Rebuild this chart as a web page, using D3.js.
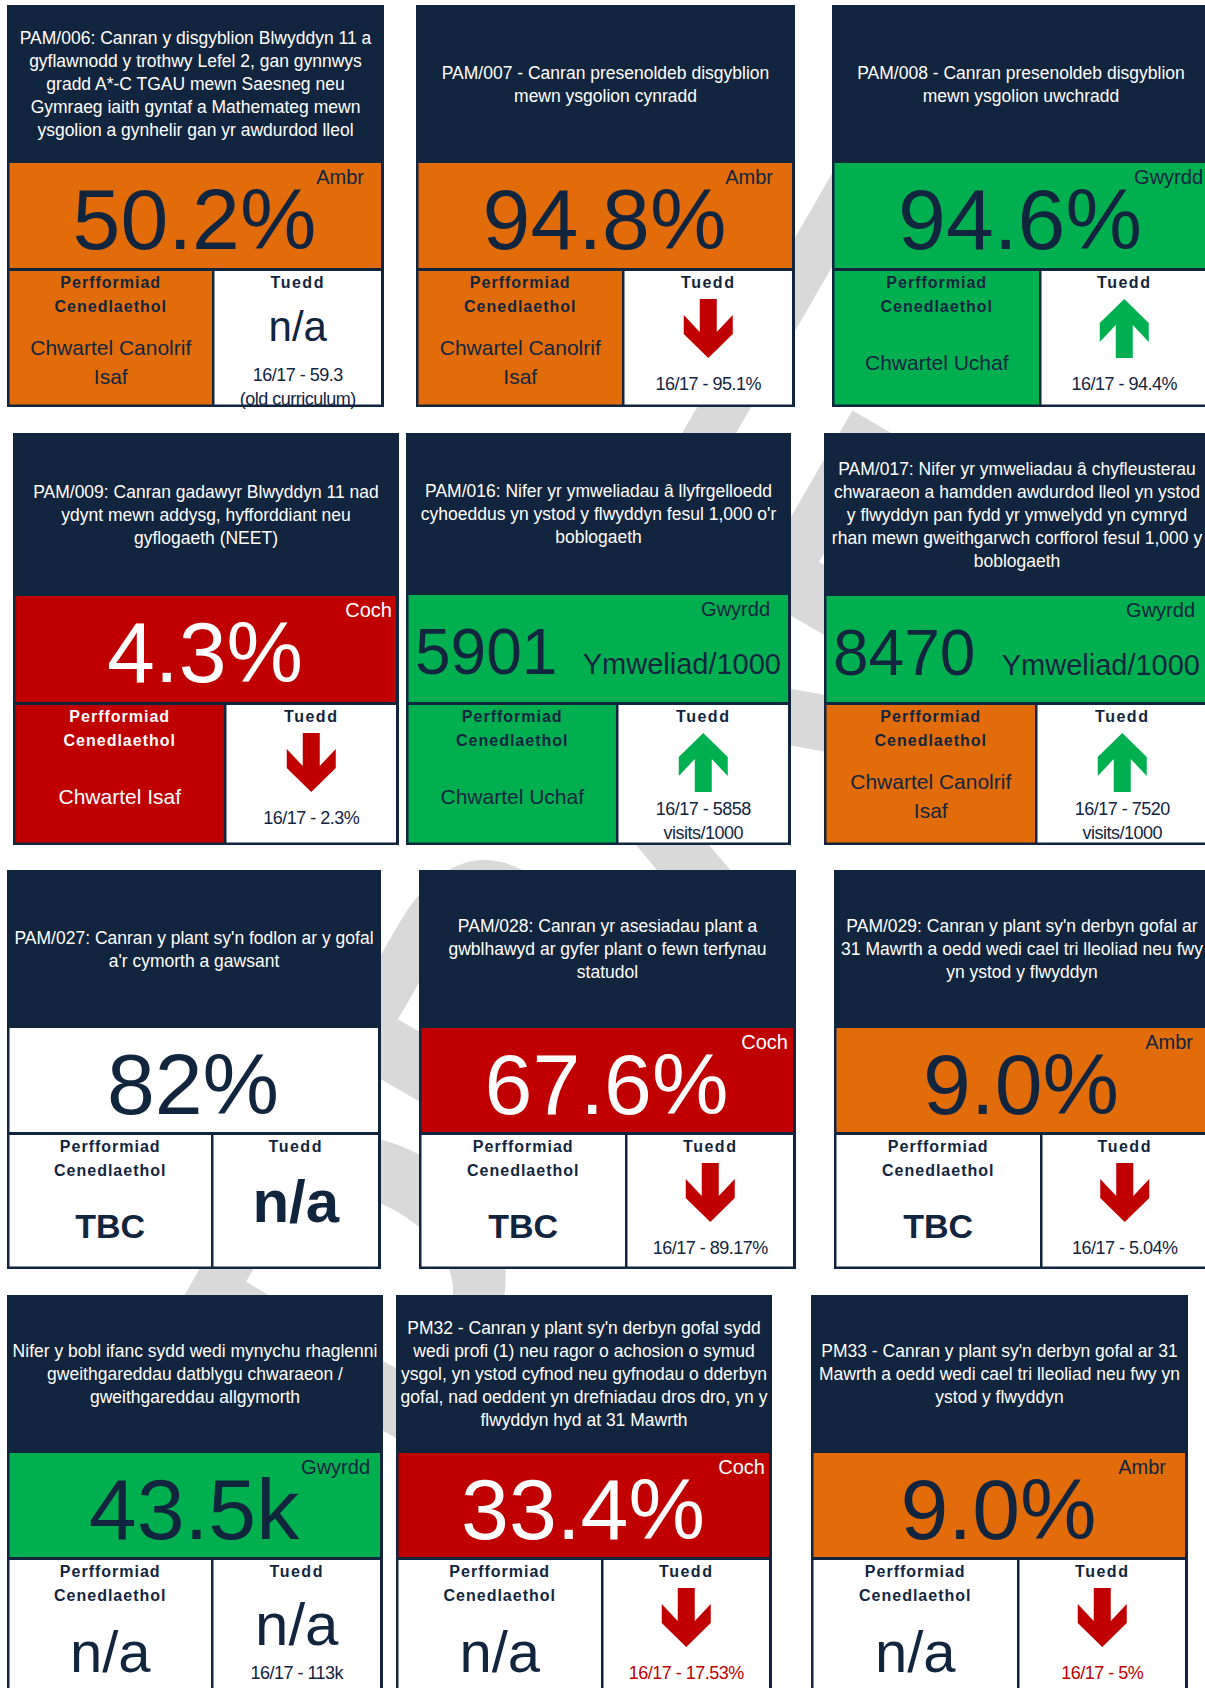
<!DOCTYPE html>
<html>
<head>
<meta charset="utf-8">
<script src="https://cdn.jsdelivr.net/npm/d3@7"></script>
<style>
  body { margin: 0; background: #fff; }
  svg { display: block; font-family: "Liberation Sans", Arial, sans-serif; }
</style>
</head>
<body>
<div id="chart"></div>
<script>
const width = 1205;
const height = 1688;

const titles = [
    ["PAM/006: Canran y disgyblion Blwyddyn 11 a", "gyflawnodd y trothwy Lefel 2, gan gynnwys", "gradd A*-C TGAU mewn Saesneg neu", "Gymraeg iaith gyntaf a Mathemateg mewn", "ysgolion a gynhelir gan yr awdurdod lleol"],
    ["PAM/007 - Canran presenoldeb disgyblion", "mewn ysgolion cynradd"],
    ["PAM/008 - Canran presenoldeb disgyblion", "mewn ysgolion uwchradd"],
    ["PAM/009: Canran gadawyr Blwyddyn 11 nad", "ydynt mewn addysg, hyfforddiant neu", "gyflogaeth (NEET)"],
    ["PAM/016: Nifer yr ymweliadau â llyfrgelloedd", "cyhoeddus yn ystod y flwyddyn fesul 1,000 o'r", "boblogaeth"],
    ["PAM/017: Nifer yr ymweliadau â chyfleusterau", "chwaraeon a hamdden awdurdod lleol yn ystod", "y flwyddyn pan fydd yr ymwelydd yn cymryd", "rhan mewn gweithgarwch corfforol fesul 1,000 y", "boblogaeth"],
    ["PAM/027: Canran y plant sy'n fodlon ar y gofal", "a'r cymorth a gawsant"],
    ["PAM/028: Canran yr asesiadau plant a", "gwblhawyd ar gyfer plant o fewn terfynau", "statudol"],
    ["PAM/029: Canran y plant sy'n derbyn gofal ar", "31 Mawrth a oedd wedi cael tri lleoliad neu fwy", "yn ystod y flwyddyn"],
    ["Nifer y bobl ifanc sydd wedi mynychu rhaglenni", "gweithgareddau datblygu chwaraeon /", "gweithgareddau allgymorth"],
    ["PM32 - Canran y plant sy'n derbyn gofal sydd", "wedi profi (1) neu ragor o achosion o symud", "ysgol, yn ystod cyfnod neu gyfnodau o dderbyn", "gofal, nad oeddent yn drefniadau dros dro, yn y", "flwyddyn hyd at 31 Mawrth"],
    ["PM33 - Canran y plant sy'n derbyn gofal ar 31", "Mawrth a oedd wedi cael tri lleoliad neu fwy yn", "ystod y flwyddyn"]
];
const values = ["50.2%", "94.8%", "94.6%", "4.3%", "5901", "8470", "82%", "67.6%", "9.0%", "43.5k", "33.4%", "9.0%"];
const units = ["", "", "", "", "Ymweliad/1000", "Ymweliad/1000", "", "", "", "", "", ""];
const ragStatus = ["Ambr", "Ambr", "Gwyrdd", "Coch", "Gwyrdd", "Gwyrdd", "", "Coch", "Ambr", "Gwyrdd", "Coch", "Ambr"];
const nationalStatus = ["Ambr", "Ambr", "Gwyrdd", "Coch", "Gwyrdd", "Ambr", "", "", "", "", "", ""];
const nationalText = [
    ["Chwartel Canolrif", "Isaf"], ["Chwartel Canolrif", "Isaf"], ["Chwartel Uchaf"], ["Chwartel Isaf"],
    ["Chwartel Uchaf"], ["Chwartel Canolrif", "Isaf"], ["TBC"], ["TBC"], ["TBC"], ["n/a"], ["n/a"], ["n/a"]
];
const trend = ["n/a", "down", "up", "down", "up", "up", "n/a", "down", "down", "n/a", "down", "down"];
const previous = [
    ["16/17 - 59.3", "(old curriculum)"], ["16/17 - 95.1%"], ["16/17 - 94.4%"], ["16/17 - 2.3%"],
    ["16/17 - 5858", "visits/1000"], ["16/17 - 7520", "visits/1000"], [], ["16/17 - 89.17%"],
    ["16/17 - 5.04%"], ["16/17 - 113k"], ["16/17 - 17.53%"], ["16/17 - 5%"]
];
const previousFlagged = [false, false, false, false, false, false, false, false, false, false, true, true];

// ---- card frames: x0, x1, top, header bottom, value bottom, bottom, divider, label inset ----
const boxes = [
    [7, 384, 5, 163, 269, 407, 213, 20],
    [416, 795, 5, 163, 269, 407, 623, 22],
    [832, 1210, 5, 163, 269, 407, 1040, 7],
    [13, 399, 433, 596, 703, 845, 225, 7],
    [406, 791, 433, 595, 703, 845, 617, 21],
    [824, 1210, 433, 596, 703, 845, 1036, 15],
    [7, 381, 870, 1028, 1133, 1269, 212, 0],
    [419, 796, 870, 1028, 1133, 1269, 626, 8],
    [834, 1210, 870, 1028, 1133, 1269, 1041, 17],
    [7, 383, 1295, 1453, 1558, 1700, 212, 13],
    [396, 772, 1295, 1453, 1558, 1700, 602, 7],
    [811, 1188, 1295, 1453, 1558, 1700, 1018, 22]
];

const navy = "#12253f";
const fillColour = d3.scaleOrdinal()
    .domain(["Gwyrdd", "Ambr", "Coch", ""])
    .range(["#00b050", "#e36c0a", "#c00000", "#ffffff"]);
const inkColour = d3.scaleOrdinal()
    .domain(["Gwyrdd", "Ambr", "Coch", ""])
    .range([navy, navy, "#ffffff", navy]);

const svg = d3.select("#chart")
    .append("svg")
    .attr("width", width)
    .attr("height", height);

// faint watermark behind the cards
svg.append("text")
    .attr("transform", "translate(640,790) rotate(-60)")
    .attr("text-anchor", "middle")
    .attr("dy", "0.35em")
    .attr("font-size", 420)
    .attr("font-weight", "bold")
    .attr("fill", "#d9d9d9")
    .text("DRAFT");

// down arrow outline, drawn relative to (centre, top)
const arrowShape = [[-8.5, 0], [8.5, 0], [8.5, 33], [24.5, 16], [24.5, 35], [0, 59], [-24.5, 35], [-24.5, 16], [-8.5, 33]];
const arrowLine = d3.line();

function addLines(g, lines, x, y0, step, attrs) {
    const t = g.append("text").attr("text-anchor", "middle");
    Object.entries(attrs).forEach(([k, v]) => t.attr(k, v));
    lines.forEach((line, j) => {
        t.append("tspan").attr("x", x).attr("y", y0 + j * step).text(line);
    });
    return t;
}

const cards = svg.selectAll("g.card")
    .data(d3.range(titles.length))
    .enter().append("g")
    .attr("class", "card");

cards.each(function (i) {
    const g = d3.select(this);
    const [x0, x1, top, hb, vb, bot, div, inset] = boxes[i];
    const cx = (x0 + x1) / 2;

    // frame + header
    g.append("rect").attr("x", x0).attr("y", top).attr("width", x1 - x0).attr("height", bot - top).attr("fill", navy);

    const headCentre = (top + hb) / 2;
    const n = titles[i].length;
    addLines(g, titles[i], cx, headCentre + 6 - (n - 1) / 2 * 23, 23,
        { "font-size": 17.5, fill: "#ffffff" });

    // value band
    g.append("rect").attr("x", x0 + 2.5).attr("y", hb).attr("width", x1 - x0 - 5.5).attr("height", vb - hb - 1)
        .attr("fill", fillColour(ragStatus[i]));
    const ink = inkColour(ragStatus[i]);
    if (units[i]) {
        g.append("text").attr("x", x0 + 9).attr("y", hb + 79).attr("font-size", 64).attr("fill", ink).text(values[i]);
        g.append("text").attr("x", x1 - 10).attr("y", hb + 79).attr("text-anchor", "end")
            .attr("font-size", 29).attr("fill", ink).text(units[i]);
    } else {
        g.append("text").attr("x", cx - 1).attr("y", hb + 86).attr("text-anchor", "middle")
            .attr("font-size", 86).attr("fill", ink).text(values[i]);
    }
    if (ragStatus[i]) {
        g.append("text").attr("x", x1 - inset).attr("y", hb + 21).attr("text-anchor", "end")
            .attr("font-size", 20).attr("fill", ink).text(ragStatus[i]);
    }

    // national performance box
    g.append("rect").attr("x", x0 + 2.5).attr("y", vb + 2).attr("width", div - x0 - 3.5).attr("height", bot - vb - 4.5)
        .attr("fill", fillColour(nationalStatus[i]));
    const nInk = inkColour(nationalStatus[i]);
    const lx = (x0 + 2.5 + div - 1) / 2;
    addLines(g, ["Perfformiad", "Cenedlaethol"], lx, vb + 19, 24,
        { "font-size": 16, "font-weight": "bold", "letter-spacing": 1, fill: nInk });
    const nt = nationalText[i];
    if (nt[0] === "TBC") {
        addLines(g, nt, lx, vb + 105, 0, { "font-size": 34, "font-weight": "bold", fill: nInk });
    } else if (nt[0] === "n/a") {
        addLines(g, nt, lx, vb + 114, 0, { "font-size": 58, fill: nInk });
    } else {
        addLines(g, nt, lx, vb + 100.5 - (nt.length - 1) / 2 * 29, 29, { "font-size": 21, fill: nInk });
    }

    // trend box
    g.append("rect").attr("x", div + 1.5).attr("y", vb + 2).attr("width", x1 - 3 - div - 1.5).attr("height", bot - vb - 4.5)
        .attr("fill", "#ffffff");
    const rx = (div + 1.5 + x1 - 3) / 2;
    addLines(g, ["Tuedd"], rx, vb + 19, 0,
        { "font-size": 16, "font-weight": "bold", "letter-spacing": 1.5, fill: navy });

    const prev = previous[i];
    if (trend[i] === "n/a") {
        if (prev.length === 0) {
            addLines(g, ["n/a"], rx, vb + 89, 0, { "font-size": 60, "font-weight": "bold", fill: navy });
        } else if (prev.length === 2) {
            addLines(g, ["n/a"], rx, vb + 72, 0, { "font-size": 42, fill: navy });
        } else {
            addLines(g, ["n/a"], rx, vb + 87, 0, { "font-size": 60, fill: navy });
        }
    } else {
        const up = trend[i] === "up";
        const pts = arrowShape.map(([dx, dy]) => [rx + dx, vb + 30 + (up ? 59 - dy : dy)]);
        g.append("path").attr("d", arrowLine(pts) + "Z").attr("fill", up ? "#00b050" : "#c00000");
    }
    if (prev.length) {
        const y0 = prev.length === 2 ? vb + 112 : vb + 121;
        addLines(g, prev, rx, y0, 24,
            { "font-size": 18, "letter-spacing": -0.5, fill: previousFlagged[i] ? "#c00000" : navy });
    }
});
</script>
</body>
</html>
